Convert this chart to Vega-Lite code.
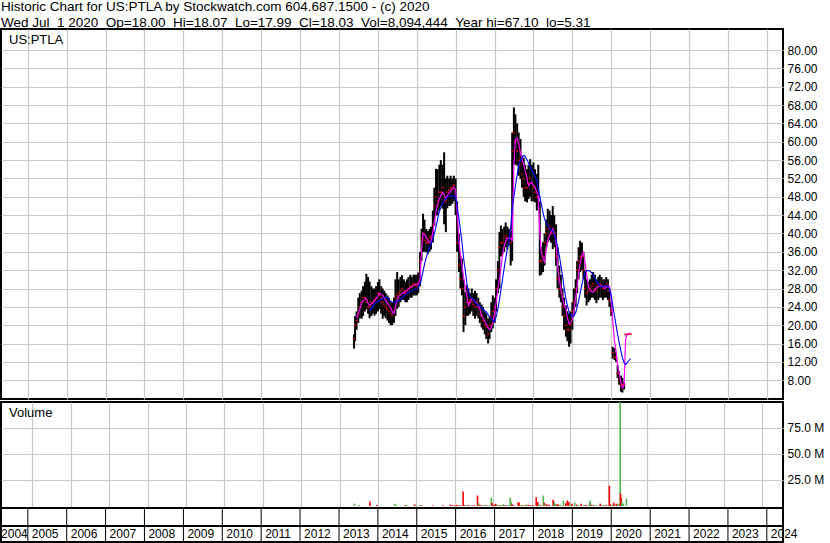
{
  "$schema": "https://vega.github.io/schema/vega-lite/v6.json",
  "padding": 0,
  "background": "white",
  "spacing": 3,
  "bounds": "flush",
  "config": {
    "font": "Liberation Sans",
    "view": {"stroke": "black", "strokeWidth": 2},
    "axis": {"labelFont": "Liberation Sans", "labelFontSize": 12, "labelColor": "black", "gridColor": "#c8c8c8", "gridWidth": 1.2, "domain": false, "ticks": false, "labelPadding": 4, "labelOverlap": false, "minExtent": 0, "maxExtent": 0},
    "title": {"font": "Liberation Sans", "fontWeight": "normal", "color": "black"}
  },
  "title": {
    "text": ["Historic Chart for US:PTLA by Stockwatch.com 604.687.1500 - (c) 2020", "Wed Jul \u00a01 2020 \u00a0Op=18.00 \u00a0Hi=18.07 \u00a0Lo=17.99 \u00a0Cl=18.03 \u00a0Vol=8,094,444 \u00a0Year hi=67.10 \u00a0lo=5.31"],
    "anchor": "start", "fontSize": 13.5, "lineHeight": 16, "offset": -1.5, "dx": 1
  },
  "datasets": {
    "px": [
      {"d":"2013-05-22","h":18,"l":14.9,"c":17},
      {"d":"2013-06-01","h":22,"l":16.5,"c":20},
      {"d":"2013-06-15","h":23,"l":19,"c":21,"m":21.5},
      {"d":"2013-07-01","h":26,"l":20.5,"c":22.5,"m":22.5},
      {"d":"2013-07-15","h":27,"l":21.5,"c":24,"m":23.5},
      {"d":"2013-08-01","h":27.5,"l":21.4,"c":25,"m":24.8},
      {"d":"2013-08-15","h":28.5,"l":22,"c":26,"m":25.4},
      {"d":"2013-09-01","h":29.5,"l":23,"c":26,"m":25.6},
      {"d":"2013-09-15","h":31.2,"l":23.5,"c":25,"m":25.8},
      {"d":"2013-10-01","h":30.5,"l":22.5,"c":24,"m":24.8},
      {"d":"2013-10-15","h":29.5,"l":21.5,"c":24,"m":24.3,"b":23.2},
      {"d":"2013-11-01","h":28.5,"l":22,"c":25,"m":24.6,"b":23.6},
      {"d":"2013-11-15","h":28,"l":22.5,"c":25,"m":25,"b":24.2},
      {"d":"2013-12-01","h":28,"l":22.1,"c":25.5,"m":25.3,"b":24.6},
      {"d":"2013-12-15","h":28.5,"l":22.5,"c":26,"m":25.8,"b":25},
      {"d":"2014-01-01","h":29.4,"l":23,"c":27,"m":26.3,"b":25.2},
      {"d":"2014-01-15","h":30,"l":23.5,"c":26.5,"m":26.9,"b":25.4},
      {"d":"2014-02-01","h":28.5,"l":22.5,"c":26,"m":26.8,"b":25.6},
      {"d":"2014-02-15","h":28,"l":21.4,"c":25,"m":26.5,"b":25.8},
      {"d":"2014-03-01","h":27.5,"l":22,"c":24.5,"m":26,"b":26},
      {"d":"2014-03-15","h":27,"l":21.5,"c":24,"m":25.4,"b":26.1},
      {"d":"2014-04-01","h":26.5,"l":21,"c":23.5,"m":24.8,"b":26},
      {"d":"2014-04-15","h":26,"l":20.5,"c":23,"m":24.3,"b":25.6},
      {"d":"2014-05-01","h":25,"l":20,"c":22.5,"m":23.8,"b":25.2},
      {"d":"2014-05-15","h":25,"l":20,"c":22,"m":23,"b":25},
      {"d":"2014-06-01","h":26,"l":20.5,"c":23,"m":22.5,"b":25},
      {"d":"2014-06-15","h":30,"l":22,"c":26,"m":24,"b":25},
      {"d":"2014-07-01","h":31.6,"l":23.6,"c":26.5,"m":25.5,"b":25.1},
      {"d":"2014-07-15","h":30,"l":24,"c":27,"m":26.3,"b":25.3},
      {"d":"2014-08-01","h":30.5,"l":25,"c":27.5,"m":26.6,"b":25.6},
      {"d":"2014-08-15","h":30.9,"l":25.5,"c":28,"m":26.9,"b":25.9},
      {"d":"2014-09-01","h":30,"l":25.5,"c":27.5,"m":27.1,"b":26.3},
      {"d":"2014-09-15","h":29.5,"l":25,"c":27,"m":27.3,"b":26.6},
      {"d":"2014-10-01","h":30,"l":25,"c":27.5,"m":27.6,"b":26.9},
      {"d":"2014-10-15","h":30.5,"l":25.5,"c":28,"m":27.9,"b":27.1},
      {"d":"2014-11-01","h":31,"l":26,"c":28.5,"m":28.2,"b":27.3},
      {"d":"2014-11-15","h":30.5,"l":26,"c":28.5,"m":28.4,"b":27.5},
      {"d":"2014-12-01","h":31,"l":26.5,"c":29,"m":28.6,"b":27.7},
      {"d":"2014-12-15","h":31,"l":26.5,"c":29,"m":28.8,"b":27.9},
      {"d":"2015-01-01","h":31,"l":26.5,"c":28.5,"m":28.9,"b":28},
      {"d":"2015-01-15","h":31.5,"l":27,"c":29,"m":29,"b":28.3},
      {"d":"2015-02-01","h":36,"l":28.5,"c":34,"m":30,"b":28.8},
      {"d":"2015-02-15","h":41,"l":34,"c":39,"m":36.5,"b":30.2},
      {"d":"2015-03-01","h":44.3,"l":36,"c":40,"m":40,"b":31.8},
      {"d":"2015-03-15","h":43,"l":36,"c":38.5,"m":39.8,"b":33.3},
      {"d":"2015-04-01","h":41,"l":35.9,"c":38,"m":39.2,"b":34.8},
      {"d":"2015-04-15","h":40.5,"l":35.5,"c":38,"m":38.4,"b":36},
      {"d":"2015-05-01","h":41,"l":36,"c":39,"m":38.1,"b":37},
      {"d":"2015-05-15","h":41.5,"l":36.5,"c":39.5,"m":38.3,"b":37.8},
      {"d":"2015-06-01","h":45,"l":38,"c":42,"m":40.3,"b":38.8},
      {"d":"2015-06-15","h":50,"l":41.7,"c":46,"m":42.5,"b":40},
      {"d":"2015-07-01","h":54.1,"l":43.9,"c":48,"m":44.8,"b":41.5},
      {"d":"2015-07-15","h":54,"l":44,"c":47,"m":46.3,"b":43},
      {"d":"2015-08-01","h":55,"l":45,"c":49,"m":47.5,"b":44.8},
      {"d":"2015-08-15","h":56,"l":46,"c":49,"m":48.3,"b":45.8},
      {"d":"2015-09-01","h":55,"l":45.4,"c":50,"m":49,"b":46.6},
      {"d":"2015-09-15","h":57.7,"l":42,"c":47,"m":48.5,"b":47.2},
      {"d":"2015-10-01","h":52,"l":40.3,"c":47,"m":47.5,"b":47.6},
      {"d":"2015-10-15","h":52.6,"l":45.5,"c":49,"m":48.3,"b":47.9},
      {"d":"2015-11-01","h":52,"l":46,"c":49.5,"m":48.8,"b":48.1},
      {"d":"2015-11-15","h":52.6,"l":46.1,"c":50,"m":49.3,"b":48.2},
      {"d":"2015-12-01","h":52,"l":46.5,"c":50,"m":49.7,"b":48.2},
      {"d":"2015-12-15","h":52.6,"l":47,"c":50.5,"m":50.1,"b":48.2},
      {"d":"2016-01-01","h":52,"l":44,"c":46,"m":49.5,"b":48},
      {"d":"2016-01-15","h":47,"l":36,"c":38,"m":45,"b":45.8},
      {"d":"2016-02-01","h":40,"l":31.6,"c":33,"m":38.5,"b":43.3},
      {"d":"2016-02-15","h":35,"l":28,"c":30,"m":35.5,"b":40.8},
      {"d":"2016-03-01","h":34.5,"l":26.5,"c":28,"m":33,"b":38},
      {"d":"2016-03-15","h":30,"l":18.5,"c":22,"m":30.5,"b":34.8},
      {"d":"2016-04-01","h":27.2,"l":20,"c":24,"m":28.3,"b":31.8},
      {"d":"2016-04-15","h":28.7,"l":22,"c":25,"m":26.3,"b":29.2},
      {"d":"2016-05-01","h":28,"l":22.1,"c":25,"m":24.3,"b":27.3},
      {"d":"2016-05-15","h":27,"l":22.5,"c":25.5,"m":25,"b":26.2},
      {"d":"2016-06-01","h":28,"l":23,"c":25,"m":25.7,"b":25.9},
      {"d":"2016-06-15","h":27,"l":22,"c":24.5,"m":25.6,"b":25.6},
      {"d":"2016-07-01","h":27.5,"l":21.4,"c":24,"m":25.2,"b":25},
      {"d":"2016-07-15","h":27,"l":22,"c":25,"m":24.8,"b":24.7},
      {"d":"2016-08-01","h":26,"l":21.5,"c":24,"m":24.4,"b":24.4},
      {"d":"2016-08-15","h":25,"l":20.5,"c":22.5,"m":23.5,"b":24.2},
      {"d":"2016-09-01","h":24.5,"l":19.5,"c":22,"m":22.1,"b":23.8},
      {"d":"2016-09-15","h":24,"l":19,"c":21,"m":21.5,"b":23.5},
      {"d":"2016-10-01","h":23,"l":18,"c":20,"m":20.8,"b":23.1},
      {"d":"2016-10-15","h":22.5,"l":17,"c":19.5,"m":20.2,"b":22.9},
      {"d":"2016-11-01","h":21.5,"l":16,"c":18,"m":19.5,"b":22.3},
      {"d":"2016-11-15","h":22,"l":17,"c":20,"m":19,"b":21.9},
      {"d":"2016-12-01","h":25,"l":18.5,"c":22,"m":19.5,"b":21.4},
      {"d":"2016-12-15","h":26.5,"l":19.3,"c":23,"m":20.5,"b":21},
      {"d":"2017-01-01","h":26,"l":20.5,"c":24,"m":22.5,"b":20.8},
      {"d":"2017-01-15","h":30,"l":23,"c":28,"m":25,"b":21.8},
      {"d":"2017-02-01","h":34,"l":27,"c":32,"m":28,"b":23.5},
      {"d":"2017-02-15","h":40.3,"l":28,"c":37,"m":30,"b":25.5},
      {"d":"2017-03-01","h":41.7,"l":35,"c":38,"m":32.5,"b":27.7},
      {"d":"2017-03-15","h":41,"l":35.5,"c":38,"m":35,"b":29.8},
      {"d":"2017-04-01","h":41.5,"l":36,"c":39,"m":37.3,"b":32.5},
      {"d":"2017-04-15","h":42.4,"l":37,"c":39.5,"m":38.3,"b":34.5},
      {"d":"2017-05-01","h":41.5,"l":36.5,"c":39,"m":38.9,"b":36.7},
      {"d":"2017-05-15","h":41,"l":37.4,"c":39,"m":39.1,"b":38.4},
      {"d":"2017-06-01","h":40.5,"l":33,"c":38,"m":39,"b":41.5},
      {"d":"2017-06-15","h":62,"l":34,"c":58,"m":38.3,"b":45.4},
      {"d":"2017-07-01","h":67.5,"l":55,"c":62,"m":54.8,"b":48},
      {"d":"2017-07-15","h":66,"l":55,"c":60,"m":60.5,"b":50.4},
      {"d":"2017-08-01","h":64,"l":54.8,"c":58,"m":60.8,"b":52.8},
      {"d":"2017-08-15","h":62,"l":52.6,"c":56,"m":59.5,"b":54.8},
      {"d":"2017-09-01","h":60.6,"l":51.9,"c":55,"m":57.6,"b":56},
      {"d":"2017-09-15","h":57,"l":50,"c":53,"m":56.3,"b":56.6},
      {"d":"2017-10-01","h":56.5,"l":48,"c":52,"m":55,"b":57},
      {"d":"2017-10-15","h":55,"l":47,"c":50,"m":53.7,"b":56.8},
      {"d":"2017-11-01","h":54,"l":46.8,"c":50,"m":52,"b":56.1},
      {"d":"2017-11-15","h":55,"l":47.5,"c":51,"m":50.4,"b":55.4},
      {"d":"2017-12-01","h":56.2,"l":48,"c":52,"m":50.8,"b":54.6},
      {"d":"2017-12-15","h":55,"l":47,"c":51,"m":51.2,"b":53.8},
      {"d":"2018-01-01","h":55.5,"l":47,"c":50,"m":50.6,"b":53.2},
      {"d":"2018-01-15","h":54,"l":46.8,"c":49,"m":50.1,"b":52.5},
      {"d":"2018-02-01","h":53,"l":45,"c":48,"m":49,"b":51.5},
      {"d":"2018-02-15","h":55,"l":46,"c":48,"m":48.2,"b":49.8},
      {"d":"2018-03-01","h":47,"l":30.8,"c":34,"m":40.3,"b":48.2},
      {"d":"2018-03-15","h":37,"l":31,"c":34,"m":36,"b":46.5},
      {"d":"2018-04-01","h":38.1,"l":31.6,"c":35,"m":34.5,"b":44.5},
      {"d":"2018-04-15","h":40,"l":33,"c":38,"m":33.8,"b":43.2},
      {"d":"2018-05-01","h":43,"l":37,"c":40,"m":36.3,"b":42.3},
      {"d":"2018-05-15","h":45.4,"l":38.1,"c":41,"m":38.5,"b":41.7},
      {"d":"2018-06-01","h":45,"l":38.5,"c":41.5,"m":39.5,"b":41},
      {"d":"2018-06-15","h":44,"l":38,"c":40,"m":40.3,"b":40.8},
      {"d":"2018-07-01","h":46,"l":36.6,"c":40,"m":41,"b":40.6},
      {"d":"2018-07-15","h":44,"l":37,"c":40,"m":40,"b":39.7},
      {"d":"2018-08-01","h":42,"l":33,"c":35,"m":38.5,"b":38.8},
      {"d":"2018-08-15","h":37,"l":28,"c":30,"m":33,"b":37},
      {"d":"2018-09-01","h":33,"l":26,"c":28,"m":30,"b":35.2},
      {"d":"2018-09-15","h":31,"l":25,"c":27,"m":28,"b":33},
      {"d":"2018-10-01","h":28,"l":22,"c":24,"m":26,"b":30.8},
      {"d":"2018-10-15","h":26,"l":19,"c":22,"m":24.5,"b":28.3},
      {"d":"2018-11-01","h":24.3,"l":17.5,"c":20,"m":23.5,"b":25.8},
      {"d":"2018-11-15","h":23,"l":16.5,"c":19,"m":21.7,"b":24.3},
      {"d":"2018-12-01","h":22.5,"l":15.3,"c":19,"m":20.3,"b":22.9},
      {"d":"2018-12-15","h":23,"l":16,"c":20,"m":20.5,"b":22.3},
      {"d":"2019-01-01","h":25,"l":19,"c":23,"m":21.3,"b":21.9},
      {"d":"2019-01-15","h":28,"l":22,"c":25,"m":23,"b":22},
      {"d":"2019-02-01","h":30,"l":24,"c":28,"m":26,"b":22.7},
      {"d":"2019-02-15","h":34,"l":27,"c":32,"m":28.5,"b":24},
      {"d":"2019-03-01","h":37,"l":30,"c":34,"m":31.5,"b":25.2},
      {"d":"2019-03-15","h":38.4,"l":31.6,"c":35,"m":33.5,"b":27},
      {"d":"2019-04-01","h":38,"l":32,"c":35,"m":35.3,"b":28.9},
      {"d":"2019-04-15","h":36,"l":30,"c":32,"m":35.9,"b":30.2},
      {"d":"2019-05-01","h":32,"l":26,"c":28,"m":33.5,"b":31.5},
      {"d":"2019-05-15","h":30,"l":24.3,"c":27,"m":31,"b":31.9},
      {"d":"2019-06-01","h":29.5,"l":25,"c":27.5,"m":28.5,"b":31.9},
      {"d":"2019-06-15","h":30,"l":25.5,"c":28,"m":27.8,"b":31.8},
      {"d":"2019-07-01","h":31,"l":26,"c":28.5,"m":27.3,"b":31.4},
      {"d":"2019-07-15","h":31.6,"l":26,"c":29,"m":27.2,"b":31},
      {"d":"2019-08-01","h":31,"l":25.5,"c":28,"m":27.8,"b":30.3},
      {"d":"2019-08-15","h":30,"l":24.8,"c":27.5,"m":28.1,"b":29.6},
      {"d":"2019-09-01","h":30.5,"l":25.5,"c":28.5,"m":28.4,"b":29},
      {"d":"2019-09-15","h":31,"l":26,"c":29,"m":28.6,"b":28.6},
      {"d":"2019-10-01","h":30.5,"l":26,"c":28.5,"m":28.7,"b":28.4},
      {"d":"2019-10-15","h":30,"l":25.5,"c":28,"m":28.3,"b":28.4},
      {"d":"2019-11-01","h":30,"l":26,"c":28.5,"m":28,"b":28.6},
      {"d":"2019-11-15","h":30.5,"l":26,"c":29,"m":28.2,"b":28.6},
      {"d":"2019-12-01","h":30,"l":25.5,"c":27.5,"m":28.6,"b":28.3},
      {"d":"2019-12-15","h":28,"l":24,"c":25.5,"m":28.5,"b":28},
      {"d":"2020-01-01","h":25,"l":22,"c":23,"m":26,"b":26.5},
      {"d":"2020-01-15","h":15.3,"l":12.7,"c":14,"m":21,"b":24.3},
      {"d":"2020-02-01","h":15,"l":12.4,"c":13,"m":16.5,"b":22},
      {"d":"2020-02-15","h":14,"l":12,"c":13,"m":14.5,"b":20},
      {"d":"2020-03-01","h":11.3,"l":8.5,"c":9.5,"m":11.3,"b":18},
      {"d":"2020-03-15","h":10,"l":7,"c":8,"m":9.5,"b":16.3},
      {"d":"2020-04-01","h":9,"l":5.5,"c":7,"m":7.6,"b":14.4},
      {"d":"2020-04-15","h":8.5,"l":5.31,"c":7,"m":6.3,"b":12.9},
      {"d":"2020-05-01","h":7.5,"l":6,"c":7,"m":7,"b":11.8},
      {"d":"2020-05-15","h":18.1,"l":17.8,"c":18,"m":17,"b":11.4},
      {"d":"2020-06-01","h":18.1,"l":17.9,"c":18,"m":18,"b":11.9},
      {"d":"2020-06-15","h":18.1,"l":17.9,"c":18,"m":18.2,"b":12.3},
      {"d":"2020-07-01","h":18.07,"l":17.99,"c":18.03,"m":18.2,"b":12.7}
    ],
    "vol": [
      {"d":"2013-05-22","v":2.2,"u":"up"},{"d":"2013-07-05","v":0.8,"u":"up"},{"d":"2013-10-15","v":4.2,"u":"dn"},{"d":"2013-12-20","v":0.8,"u":"dn"},
      {"d":"2014-06-10","v":2.2,"u":"up"},{"d":"2014-06-20","v":1.0,"u":"up"},{"d":"2014-09-15","v":0.8,"u":"dn"},{"d":"2014-09-25","v":0.8,"u":"up"},{"d":"2014-10-05","v":0.5,"u":"up"},{"d":"2014-12-15","v":1.5,"u":"dn"},{"d":"2014-12-28","v":0.6,"u":"up"},
      {"d":"2015-02-05","v":0.8,"u":"up"},{"d":"2015-02-15","v":0.6,"u":"dn"},{"d":"2015-06-05","v":0.6,"u":"dn"},{"d":"2015-09-10","v":0.6,"u":"dn"},{"d":"2015-11-20","v":1.3,"u":"dn"},{"d":"2015-12-05","v":0.5,"u":"dn"},{"d":"2015-12-20","v":0.6,"u":"dn"},
      {"d":"2016-01-05","v":0.6,"u":"dn"},{"d":"2016-01-20","v":0.8,"u":"dn"},{"d":"2016-02-05","v":0.6,"u":"dn"},{"d":"2016-02-20","v":0.7,"u":"dn"},{"d":"2016-03-20","v":13.8,"u":"dn"},{"d":"2016-04-05","v":0.6,"u":"dn"},{"d":"2016-04-20","v":0.5,"u":"up"},{"d":"2016-05-05","v":0.6,"u":"dn"},{"d":"2016-05-20","v":0.5,"u":"dn"},{"d":"2016-06-05","v":0.4,"u":"up"},{"d":"2016-06-20","v":0.5,"u":"dn"},{"d":"2016-07-05","v":0.5,"u":"dn"},{"d":"2016-08-04","v":10,"u":"dn"},{"d":"2016-08-15","v":2.5,"u":"up"},{"d":"2016-08-25","v":1,"u":"dn"},{"d":"2016-09-10","v":0.6,"u":"dn"},{"d":"2016-09-25","v":0.5,"u":"up"},{"d":"2016-10-10","v":0.6,"u":"dn"},{"d":"2016-10-20","v":1,"u":"up"},{"d":"2016-11-01","v":0.5,"u":"dn"},{"d":"2016-11-15","v":0.6,"u":"up"},{"d":"2016-12-13","v":8,"u":"up"},{"d":"2016-12-20","v":3,"u":"dn"},
      {"d":"2017-01-10","v":1.2,"u":"dn"},{"d":"2017-01-25","v":2.2,"u":"dn"},{"d":"2017-02-05","v":1,"u":"up"},{"d":"2017-02-20","v":0.6,"u":"dn"},{"d":"2017-03-05","v":0.8,"u":"up"},{"d":"2017-03-20","v":0.6,"u":"dn"},{"d":"2017-04-05","v":1.5,"u":"up"},{"d":"2017-04-20","v":0.7,"u":"dn"},{"d":"2017-05-05","v":0.6,"u":"dn"},{"d":"2017-05-20","v":0.6,"u":"up"},{"d":"2017-06-10","v":8,"u":"up"},{"d":"2017-06-20","v":3.8,"u":"up"},{"d":"2017-06-28","v":1.5,"u":"dn"},{"d":"2017-07-15","v":0.8,"u":"dn"},{"d":"2017-08-25","v":3.2,"u":"dn"},{"d":"2017-09-03","v":3.2,"u":"dn"},{"d":"2017-09-15","v":0.8,"u":"up"},{"d":"2017-10-01","v":0.6,"u":"dn"},{"d":"2017-10-15","v":0.6,"u":"up"},{"d":"2017-11-01","v":0.7,"u":"dn"},{"d":"2017-11-15","v":1.4,"u":"up"},{"d":"2017-12-01","v":1,"u":"dn"},{"d":"2017-12-15","v":0.6,"u":"dn"},
      {"d":"2018-01-01","v":0.7,"u":"up"},{"d":"2018-01-15","v":0.6,"u":"dn"},{"d":"2018-02-13","v":8.3,"u":"dn"},{"d":"2018-02-28","v":3.8,"u":"dn"},{"d":"2018-03-10","v":1.5,"u":"up"},{"d":"2018-03-25","v":0.8,"u":"dn"},{"d":"2018-04-22","v":10,"u":"up"},{"d":"2018-05-01","v":3,"u":"dn"},{"d":"2018-05-10","v":1.5,"u":"up"},{"d":"2018-05-25","v":1.7,"u":"dn"},{"d":"2018-06-15","v":1.2,"u":"dn"},{"d":"2018-07-24","v":6,"u":"dn"},{"d":"2018-08-01","v":4,"u":"dn"},{"d":"2018-08-05","v":3.8,"u":"up"},{"d":"2018-08-15","v":1.8,"u":"up"},{"d":"2018-09-01","v":1.7,"u":"dn"},{"d":"2018-09-15","v":1.2,"u":"dn"},{"d":"2018-10-01","v":1.2,"u":"up"},{"d":"2018-10-30","v":5.1,"u":"up"},{"d":"2018-11-20","v":2.5,"u":"dn"},{"d":"2018-12-05","v":5.1,"u":"dn"},{"d":"2018-12-20","v":3.8,"u":"dn"},
      {"d":"2019-01-05","v":2,"u":"up"},{"d":"2019-01-20","v":2.2,"u":"dn"},{"d":"2019-02-15","v":3.2,"u":"up"},{"d":"2019-03-05","v":1.3,"u":"dn"},{"d":"2019-03-20","v":0.8,"u":"up"},{"d":"2019-04-15","v":2.2,"u":"dn"},{"d":"2019-05-15","v":1,"u":"up"},{"d":"2019-05-28","v":1,"u":"dn"},{"d":"2019-06-15","v":0.6,"u":"dn"},{"d":"2019-07-05","v":3.2,"u":"up"},{"d":"2019-07-12","v":5.1,"u":"up"},{"d":"2019-07-25","v":1.2,"u":"dn"},{"d":"2019-08-15","v":0.6,"u":"dn"},{"d":"2019-09-05","v":1,"u":"up"},{"d":"2019-10-15","v":2.2,"u":"dn"},{"d":"2019-11-05","v":0.6,"u":"dn"},{"d":"2019-11-20","v":1,"u":"up"},{"d":"2019-12-10","v":0.8,"u":"dn"},
      {"d":"2020-01-10","v":19.5,"u":"dn"},{"d":"2020-01-20","v":1.5,"u":"dn"},{"d":"2020-02-05","v":1.2,"u":"up"},{"d":"2020-02-20","v":3.2,"u":"dn"},{"d":"2020-03-15","v":2.2,"u":"dn"},{"d":"2020-04-01","v":2.2,"u":"up"},{"d":"2020-04-15","v":1.5,"u":"dn"},{"d":"2020-04-22","v":100,"u":"up"},{"d":"2020-04-25","v":12,"u":"dn"},{"d":"2020-04-30","v":8.7,"u":"dn"},{"d":"2020-05-05","v":2,"u":"dn"},{"d":"2020-05-08","v":3.8,"u":"up"},{"d":"2020-05-20","v":2,"u":"up"},{"d":"2020-06-20","v":7,"u":"up"}
    ],
    "yrs": [
      {"y":"2004","d":"2004-03-18"},{"y":"2005","d":"2005-01-01"},{"y":"2006","d":"2006-01-01"},{"y":"2007","d":"2007-01-01"},{"y":"2008","d":"2008-01-01"},{"y":"2009","d":"2009-01-01"},{"y":"2010","d":"2010-01-01"},{"y":"2011","d":"2011-01-01"},{"y":"2012","d":"2012-01-01"},{"y":"2013","d":"2013-01-01"},{"y":"2014","d":"2014-01-01"},{"y":"2015","d":"2015-01-01"},{"y":"2016","d":"2016-01-01"},{"y":"2017","d":"2017-01-01"},{"y":"2018","d":"2018-01-01"},{"y":"2019","d":"2019-01-01"},{"y":"2020","d":"2020-01-01"},{"y":"2021","d":"2021-01-01"},{"y":"2022","d":"2022-01-01"},{"y":"2023","d":"2023-01-01"},{"y":"2024","d":"2024-01-01"}
    ]
  },
  "vconcat": [
    {
      "width": 782, "height": 370,
      "title": {"text": "US:PTLA", "anchor": "start", "offset": -18, "dx": 8, "fontSize": 13},
      "data": {"name": "px"},
      "layer": [
        {
          "mark": {"type": "rule", "color": "black", "strokeWidth": 2},
          "encoding": {
            "x": {"field": "d", "type": "temporal", "scale": {"domain": [{"year":2004,"month":4,"date":24},{"year":2024,"month":6,"date":1}], "nice": false},
                  "axis": {"title": null, "labels": false, "grid": true, "tickCount": 40, "values": [{"year":2005},{"year":2006},{"year":2007},{"year":2008},{"year":2009},{"year":2010},{"year":2011},{"year":2012},{"year":2013},{"year":2014},{"year":2015},{"year":2016},{"year":2017},{"year":2018},{"year":2019},{"year":2020},{"year":2021},{"year":2022},{"year":2023},{"year":2024}]}},
            "y": {"field": "l", "type": "quantitative", "scale": {"domain": [3.9, 84.6], "nice": false, "zero": false},
                  "axis": {"title": null, "orient": "right", "grid": true, "format": ".2f", "labelOverlap": false, "labelBound": false, "tickCount": 40, "values": [8,12,16,20,24,28,32,36,40,44,48,52,56,60,64,68,72,76,80]}},
            "y2": {"field": "h"}
          }
        },
        {
          "mark": {"type": "tick", "color": "#ff0000", "orient": "horizontal", "size": 2.5, "thickness": 1.5},
          "encoding": {"x": {"field": "d", "type": "temporal"}, "y": {"field": "c", "type": "quantitative"}}
        },
        {
          "transform": [{"filter": "isValid(datum.m)"}],
          "mark": {"type": "line", "color": "#ff00ff", "strokeWidth": 1.2},
          "encoding": {"x": {"field": "d", "type": "temporal"}, "y": {"field": "m", "type": "quantitative"}}
        },
        {
          "transform": [{"filter": "isValid(datum.b)"}],
          "mark": {"type": "line", "color": "#0000ff", "strokeWidth": 1.1},
          "encoding": {"x": {"field": "d", "type": "temporal"}, "y": {"field": "b", "type": "quantitative"}}
        }
      ]
    },
    {
      "spacing": 0,
      "bounds": "flush",
      "vconcat": [
        {
          "width": 782, "height": 106,
          "title": {"text": "Volume", "anchor": "start", "offset": -18, "dx": 8, "fontSize": 13},
          "data": {"name": "vol"},
          "mark": {"type": "bar", "width": 1.6},
          "encoding": {
            "x": {"field": "d", "type": "temporal", "scale": {"domain": [{"year":2004,"month":4,"date":24},{"year":2024,"month":6,"date":1}], "nice": false},
                  "axis": {"title": null, "labels": false, "grid": true, "tickCount": 40, "values": [{"year":2005},{"year":2006},{"year":2007},{"year":2008},{"year":2009},{"year":2010},{"year":2011},{"year":2012},{"year":2013},{"year":2014},{"year":2015},{"year":2016},{"year":2017},{"year":2018},{"year":2019},{"year":2020},{"year":2021},{"year":2022},{"year":2023},{"year":2024}]}},
            "y": {"field": "v", "type": "quantitative", "scale": {"domain": [-2, 100], "nice": false},
                  "axis": {"title": null, "orient": "right", "grid": true, "labelOverlap": false, "tickCount": 10, "values": [25, 50, 75], "labelExpr": "format(datum.value, '.1f') + ' M'"}},
            "color": {"field": "u", "type": "nominal", "scale": {"domain": ["dn", "up"], "range": ["#ff0000", "#4cb84c"]}, "legend": null}
          }
        },
        {
          "width": 782, "height": 18,
          "data": {"name": "yrs"},
          "transform": [{"filter": "datum.y != '2004'"}],
          "mark": {"type": "rule", "color": "black", "strokeWidth": 1},
          "encoding": {
            "x": {"field": "d", "type": "temporal", "scale": {"domain": [{"year":2004,"month":4,"date":24},{"year":2024,"month":6,"date":1}], "nice": false}, "axis": null}
          }
        },
        {
          "width": 782, "height": 16,
          "data": {"name": "yrs"},
          "layer": [
            {
              "transform": [{"filter": "datum.y != '2004'"}],
              "mark": {"type": "rule", "color": "black", "strokeWidth": 1},
              "encoding": {
                "x": {"field": "d", "type": "temporal", "scale": {"domain": [{"year":2004,"month":4,"date":24},{"year":2024,"month":6,"date":1}], "nice": false}, "axis": null}
              }
            },
            {
              "mark": {"type": "text", "align": "left", "baseline": "middle", "dx": 4, "fontSize": 12, "color": "black", "font": "Liberation Sans"},
              "encoding": {
                "x": {"field": "d", "type": "temporal"},
                "text": {"field": "y"}
              }
            }
          ]
        }
      ]
    }
  ]
}
